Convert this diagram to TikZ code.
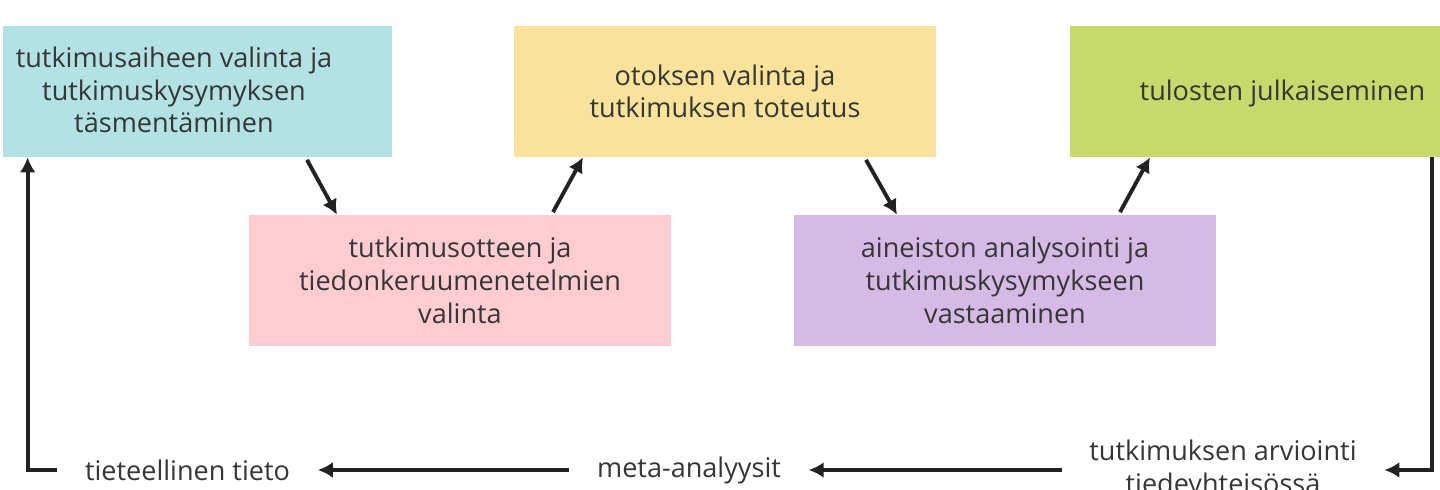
\documentclass[tikz,border=0pt]{standalone}
\usepackage{fontspec}
\setmainfont{Open Sans}
\usetikzlibrary{arrows.meta}
\definecolor{boxteal}{HTML}{B3E2E5}
\definecolor{boxyellow}{HTML}{F9E39B}
\definecolor{boxgreen}{HTML}{C6D96B}
\definecolor{boxpink}{HTML}{FFCCD1}
\definecolor{boxlilac}{HTML}{D6BAE6}
\definecolor{txtgrey}{HTML}{363636}
\definecolor{arrgrey}{HTML}{222222}
\begin{document}
\begin{tikzpicture}[
    box/.style={minimum height=2.62cm, minimum width=8.44cm, inner sep=0pt},
    txt/.style={align=center, text=txtgrey, font=\fontsize{15.4}{18.6}\selectfont},
    lbl/.style={txt, inner xsep=0.55cm},
    arr/.style={-{Latex[length=8.5pt,width=9pt]}, line width=2.2pt, draw=arrgrey}
  ]
  \useasboundingbox (0,0) rectangle (28.8,9.78);

  % top row
  \node (sel) at (3.95,7.95) [box, fill=boxteal, minimum width=7.78cm] {};
  \node (selT) at (3.48,7.98) [txt] {tutkimusaiheen valinta ja\\tutkimuskysymyksen\\täsmentäminen};

  \node (oto) at (14.5,7.95) [box, fill=boxyellow, txt] {otoksen valinta ja\\tutkimuksen toteutus};

  \node (pub) at (25.1,7.95) [box, fill=boxgreen, minimum width=7.4cm] {};
  \node (pubT) at (25.65,7.92) [txt] {tulosten julkaiseminen};

  % middle row
  \node (tto) at (9.2,4.17) [box, fill=boxpink, txt] {tutkimusotteen ja\\tiedonkeruumenetelmien\\valinta};
  \node (ana) at (20.1,4.17) [box, fill=boxlilac, txt] {aineiston analysointi ja\\tutkimuskysymykseen\\vastaaminen};

  % bottom row
  \node (tieto) at (3.75,0.38) [lbl] {tieteellinen tieto};
  \node (meta) at (13.78,0.38) [lbl] {meta-analyysit};
  \node (arvio) at (24.46,0.38) [lbl] {tutkimuksen arviointi\\tiedeyhteisössä};

  \draw[arr] ([xshift=2.19cm,yshift=-0.05cm]sel.south) -- ([xshift=-2.46cm]tto.north);
  \draw[arr] ([xshift=1.86cm,yshift=0.05cm]tto.north) -- ([xshift=-2.84cm]oto.south);
  \draw[arr] ([xshift=2.82cm,yshift=-0.05cm]oto.south) -- ([xshift=-2.16cm]ana.north);
  \draw[arr] ([xshift=2.3cm,yshift=0.05cm]ana.north) -- ([xshift=-2.1cm]pub.south);

  \draw[arr] ([xshift=-0.16cm]pub.south east) |- (arvio.east);
  \draw[arr] (arvio.west) -- (meta.east);
  \draw[arr] (meta.west) -- (tieto.east);
  \draw[arr] (tieto.west) -| ([xshift=0.5cm]sel.south west);
\end{tikzpicture}
\end{document}
